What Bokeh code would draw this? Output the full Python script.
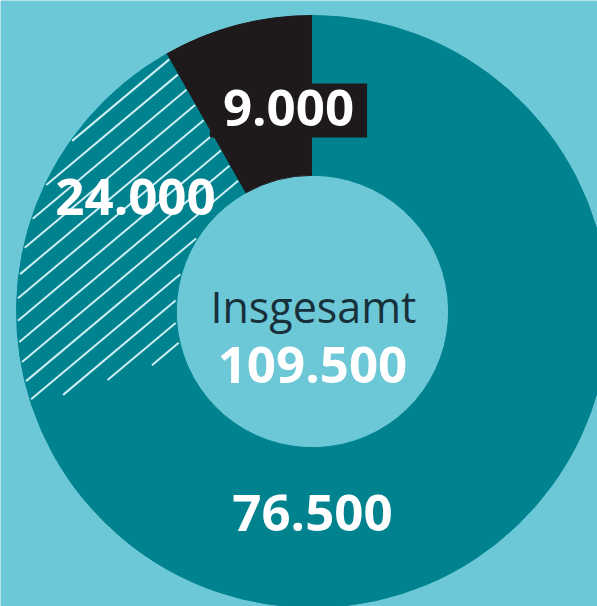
import math
import numpy as np
from bokeh.plotting import figure
from bokeh.models import Range1d, Label, ColumnDataSource
from bokeh.embed import file_html
from bokeh.resources import INLINE

# ---- data ----
segment_names = ["Segment A", "Segment B", "Segment C"]
segment_values = [9000, 24000, 76500]
center_caption = "Insgesamt"

def fmt(v):
    return f"{v:,}".replace(",", ".")

total = sum(segment_values)
segment_labels = [fmt(v) for v in segment_values]

# ---- styles ----
BG = "#6cc8d7"
TEAL = "#00838f"
BLACK = "#1e1a1b"
HATCH = "#cdeff4"
seg_colors = [BLACK, TEAL, TEAL]
seg_hatched = [False, True, False]
OUTER_R = 1.0
INNER_R = 0.46
HATCH_ANGLE = 40.0      # degrees
HATCH_GAP = 0.058       # perpendicular spacing (data units)
HATCH_PHASE = (-0.902, 0.274)

# compute angles (anticlockwise from top)
starts, ends = [], []
a = math.pi / 2
for v in segment_values:
    starts.append(a)
    a = a + v / total * 2 * math.pi
    ends.append(a)

src = ColumnDataSource(dict(name=segment_names, value=segment_values,
                            start=starts, end=ends, color=seg_colors))

p = figure(width=597, height=606, output_backend="svg", toolbar_location=None,
           x_range=Range1d(-1.054, 0.963), y_range=Range1d(-0.997, 1.051),
           min_border=0, background_fill_color=BG, border_fill_color=BG)
p.axis.visible = False
p.grid.visible = False
p.outline_line_color = None

p.annular_wedge(x=0, y=0, inner_radius=INNER_R, outer_radius=OUTER_R,
                start_angle="start", end_angle="end", direction="anticlock",
                fill_color="color", line_color="color", line_width=1,
                source=src)

# hatch lines clipped to the hatched wedge(s)
def hatch_segments(a0, a1):
    th = math.radians(HATCH_ANGLE)
    u = np.array([math.cos(th), math.sin(th)])
    n = np.array([-math.sin(th), math.cos(th)])
    c0 = float(n @ np.array(HATCH_PHASE))
    xs_out, ys_out = [], []
    t = np.arange(-1.2, 1.2, 0.0005)
    k_lo = int(math.floor((-1.1 - c0) / HATCH_GAP))
    k_hi = int(math.ceil((1.1 - c0) / HATCH_GAP))
    for k in range(k_lo, k_hi + 1):
        c = c0 + k * HATCH_GAP
        px = c * n[0] + t * u[0]
        py = c * n[1] + t * u[1]
        r = np.hypot(px, py)
        ang = np.mod(np.arctan2(py, px) - a0, 2 * math.pi)
        inside = (r >= INNER_R + 0.004) & (r <= OUTER_R - 0.004) & (ang <= (a1 - a0))
        if not inside.any():
            continue
        d = np.diff(inside.astype(int))
        run_starts = list(np.where(d == 1)[0] + 1)
        run_ends = list(np.where(d == -1)[0])
        if inside[0]:
            run_starts = [0] + run_starts
        if inside[-1]:
            run_ends = run_ends + [len(inside) - 1]
        for s, e in zip(run_starts, run_ends):
            if e - s < 4:
                continue
            xs_out.append([px[s], px[e]])
            ys_out.append([py[s], py[e]])
    return xs_out, ys_out

hx, hy = [], []
for s0, s1, h in zip(starts, ends, seg_hatched):
    if h:
        xs_, ys_ = hatch_segments(s0, s1)
        hx += xs_
        hy += ys_
p.multi_line(xs=hx, ys=hy, line_color=HATCH, line_width=2)

# label placement (polar: angle in degrees, radius as fraction of outer radius)
label_pos = [(96.8, 0.684), (147.0, 0.713), (270.0, 0.68)]
label_bg = [BLACK, None, None]
for txt, (ang, r), bg in zip(segment_labels, label_pos, label_bg):
    x = r * math.cos(math.radians(ang))
    y = r * math.sin(math.radians(ang))
    lab = Label(x=x, y=y, text=txt, text_align="center", text_baseline="middle",
                text_font="Open Sans", text_font_style="bold",
                text_font_size="51px", text_color="white")
    if bg:
        lab.background_fill_color = bg
        lab.padding = (13, 13, 6, 12)
    p.add_layout(lab)

p.add_layout(Label(x=0.003, y=0.017, text=center_caption, text_align="center",
                   text_baseline="alphabetic", text_font="Open Sans",
                   text_font_size="43px", text_color="#17303a"))
p.add_layout(Label(x=0.0, y=-0.182, text=fmt(total), text_align="center",
                   text_baseline="alphabetic", text_font="Open Sans",
                   text_font_style="bold", text_font_size="51px",
                   text_color="white"))

open("out.html", "w").write(file_html(p, INLINE))
